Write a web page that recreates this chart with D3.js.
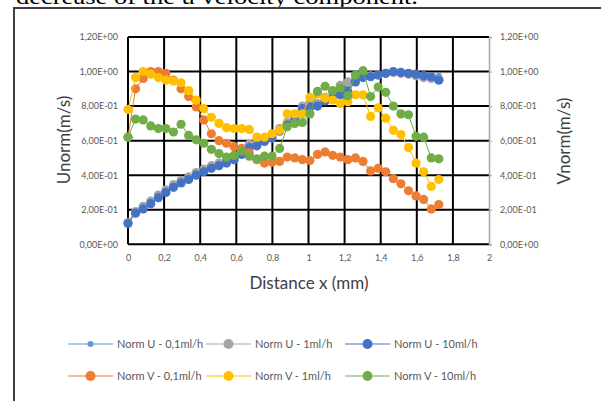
<!DOCTYPE html>
<html>
<head>
<meta charset="utf-8">
<script src="https://cdn.jsdelivr.net/npm/d3@7"></script>
<style>
  body { margin: 0; background: #fff; }
  svg { display: block; }
</style>
</head>
<body>
<svg width="601" height="401"></svg>
<script>
// distance x (mm), one sample every 0.042 mm
const xs = d3.range(42).map((i) => +(i * 0.042).toFixed(3));

const normU01 = [0.13, 0.19, 0.215, 0.245, 0.28, 0.31, 0.34, 0.365, 0.385, 0.41, 0.43, 0.45, 0.465, 0.48, 0.5, 0.535,
  0.57, 0.585, 0.61, 0.63, 0.665, 0.7, 0.735, 0.79, 0.825, 0.82, 0.845, 0.86, 0.88, 0.91, 0.95, 0.97,
  0.975, 0.985, 0.995, 1.0, 1.0, 0.995, 0.99, 0.985, 0.98, 0.975];
const normU1 = [0.125, 0.19, 0.22, 0.25, 0.285, 0.315, 0.345, 0.37, 0.39, 0.415, 0.435, 0.455, 0.47, 0.49, 0.505, 0.54,
  0.58, 0.59, 0.615, 0.635, 0.67, 0.705, 0.735, 0.8, 0.82, 0.815, 0.85, 0.88, 0.92, 0.94, 0.955, 0.97,
  0.975, 0.98, 0.99, 0.995, 0.99, 0.985, 0.975, 0.965, 0.96, 0.955];
const normU10 = [0.12, 0.18, 0.205, 0.235, 0.27, 0.3, 0.33, 0.355, 0.375, 0.4, 0.42, 0.44, 0.455, 0.47, 0.49, 0.52,
  0.56, 0.57, 0.595, 0.615, 0.655, 0.69, 0.72, 0.785, 0.795, 0.8, 0.83, 0.845, 0.865, 0.885, 0.94, 0.965,
  0.97, 0.98, 0.99, 1.0, 0.995, 0.99, 0.985, 0.975, 0.97, 0.95];
const normV01 = [0.62, 0.9, 0.96, 1.0, 1.0, 0.99, 0.95, 0.9, 0.855, 0.795, 0.72, 0.64, 0.6, 0.585, 0.565, 0.555,
  0.53, 0.49, 0.47, 0.475, 0.48, 0.505, 0.5, 0.49, 0.485, 0.52, 0.535, 0.515, 0.505, 0.49, 0.5, 0.48,
  0.425, 0.44, 0.42, 0.38, 0.35, 0.31, 0.28, 0.26, 0.205, 0.23];
const normV1 = [0.78, 0.965, 1.0, 0.985, 0.965, 0.95, 0.945, 0.935, 0.89, 0.835, 0.785, 0.735, 0.7, 0.675, 0.67, 0.67,
  0.665, 0.62, 0.62, 0.64, 0.66, 0.755, 0.755, 0.755, 0.85, 0.87, 0.845, 0.835, 0.815, 0.825, 0.865, 0.865,
  0.74, 0.79, 0.73, 0.66, 0.635, 0.56, 0.47, 0.42, 0.335, 0.375];
const normV10 = [0.62, 0.725, 0.72, 0.685, 0.67, 0.67, 0.65, 0.695, 0.63, 0.605, 0.585, 0.55, 0.525, 0.505, 0.515, 0.54,
  0.51, 0.495, 0.51, 0.51, 0.555, 0.68, 0.7, 0.705, 0.755, 0.885, 0.915, 0.89, 0.905, 0.86, 0.98, 1.005,
  0.855, 0.91, 0.88, 0.8, 0.755, 0.75, 0.625, 0.62, 0.5, 0.495];

const seriesNames = ["Norm U - 0,1ml/h", "Norm U - 1ml/h", "Norm U - 10ml/h",
  "Norm V - 0,1ml/h", "Norm V - 1ml/h", "Norm V - 10ml/h"];
const seriesValues = [normU01, normU1, normU10, normV01, normV1, normV10];
const seriesColors = ["#5b9bd5", "#a5a5a5", "#4472c4", "#ed7d31", "#ffc000", "#70ad47"];

const xTicks = [0, 0.2, 0.4, 0.6, 0.8, 1, 1.2, 1.4, 1.6, 1.8, 2];
const yTicks = [0, 0.2, 0.4, 0.6, 0.8, 1, 1.2];
const yTickLabels = ["0,00E+00", "2,00E-01", "4,00E-01", "6,00E-01", "8,00E-01", "1,00E+00", "1,20E+00"];

const series = seriesNames.map((name, k) => ({
  name,
  color: seriesColors[k],
  r: k === 0 ? 3 : 4.6,
  points: xs.map((x, i) => ({ x, v: seriesValues[k][i] }))
}));

const svg = d3.select("svg");
const font = "Lato, 'Open Sans', sans-serif";
const txt = "#595959";

// piece of the paper text above the chart
svg.append("text")
  .attr("x", 16).attr("y", 4)
  .attr("textLength", 402).attr("lengthAdjust", "spacingAndGlyphs")
  .style("font", "22px 'Liberation Serif', serif")
  .attr("fill", "#000")
  .text("decrease of the u velocity component.");

// chart area border
svg.append("rect")
  .attr("x", 14).attr("y", 8).attr("width", 600).attr("height", 400)
  .attr("fill", "#fff").attr("stroke", "#404040").attr("stroke-width", 2);

const x = d3.scaleLinear().domain([0, 2]).range([128, 489]);
const y = d3.scaleLinear().domain([0, 1.2]).range([244.3, 37]);

// gridlines
const grid = svg.append("g").attr("stroke", "#000").attr("stroke-width", 2);
grid.selectAll("line.v").data(xTicks.slice(0, -1)).join("line").attr("class", "v")
  .attr("x1", (d) => x(d)).attr("x2", (d) => x(d))
  .attr("y1", y(1.2)).attr("y2", y(0));
grid.selectAll("line.h").data(yTicks).join("line").attr("class", "h")
  .attr("x1", x(0)).attr("x2", x(2))
  .attr("y1", (d) => y(d)).attr("y2", (d) => y(d));

// secondary axis on the right
const yRight = d3.axisRight(y).tickValues(yTicks).tickSize(3)
  .tickFormat((d, i) => yTickLabels[i]);
svg.append("g")
  .attr("transform", `translate(${x(2)},0)`)
  .call(yRight)
  .call((g) => g.select(".domain").attr("stroke", "#a6a6a6").attr("stroke-width", 1.5))
  .call((g) => g.selectAll(".tick line").attr("stroke", "#a6a6a6"))
  .call((g) => g.selectAll(".tick text").attr("x", 11).attr("fill", txt)
    .style("font", `9px ${font}`));

// left axis labels
const yLeft = d3.axisLeft(y).tickValues(yTicks).tickSize(0)
  .tickFormat((d, i) => yTickLabels[i]);
svg.append("g")
  .attr("transform", `translate(${x(0)},0)`)
  .call(yLeft)
  .call((g) => g.select(".domain").remove())
  .call((g) => g.selectAll(".tick text").attr("x", -10).attr("fill", txt)
    .style("font", `9px ${font}`));

// x axis labels
const xAxis = d3.axisBottom(x).tickValues(xTicks).tickSize(0)
  .tickFormat((d) => String(d).replace(".", ","));
svg.append("g")
  .attr("transform", `translate(0,${y(0)})`)
  .call(xAxis)
  .call((g) => g.select(".domain").remove())
  .call((g) => g.selectAll(".tick text").attr("y", 10).attr("fill", txt)
    .style("font", `9px ${font}`));

// axis titles
svg.append("text")
  .attr("x", 309).attr("y", 289).attr("text-anchor", "middle")
  .attr("fill", "#404040").style("font", `17px ${font}`)
  .text("Distance x (mm)");
svg.append("text")
  .attr("transform", "translate(70,140) rotate(-90)").attr("text-anchor", "middle")
  .attr("fill", "#404040").style("font", `17px ${font}`)
  .text("Unorm(m/s)");
svg.append("text")
  .attr("transform", "translate(570,141) rotate(-90)").attr("text-anchor", "middle")
  .attr("fill", "#404040").style("font", `17px ${font}`)
  .text("Vnorm(m/s)");

// series
const line = d3.line().x((d) => x(d.x)).y((d) => y(d.v));
const sg = svg.append("g").selectAll("g").data(series).join("g");
sg.append("path")
  .attr("fill", "none")
  .attr("stroke", (d) => d.color)
  .attr("stroke-width", 1)
  .attr("d", (d) => line(d.points));
sg.selectAll("circle").data((d) => d.points.map((p) => ({ ...p, s: d }))).join("circle")
  .attr("cx", (d) => x(d.x)).attr("cy", (d) => y(d.v))
  .attr("r", (d) => d.s.r)
  .attr("fill", (d) => d.s.color);

// legend
const legendCols = [68, 206, 345];
const legendRows = [344, 376];
const lg = svg.append("g").selectAll("g").data(series).join("g")
  .attr("transform", (d, i) => `translate(${legendCols[i % 3]},${legendRows[Math.floor(i / 3)]})`);
lg.append("line")
  .attr("x1", 0).attr("x2", 45)
  .attr("stroke", (d) => d.color).attr("stroke-width", 1.2);
lg.append("circle")
  .attr("cx", 22.5).attr("r", (d, i) => (i === 0 ? 3 : 5))
  .attr("fill", (d) => d.color);
lg.append("text")
  .attr("x", 49).attr("dy", "0.35em")
  .attr("fill", txt).style("font", `11px ${font}`)
  .text((d) => d.name);
</script>
</body>
</html>
